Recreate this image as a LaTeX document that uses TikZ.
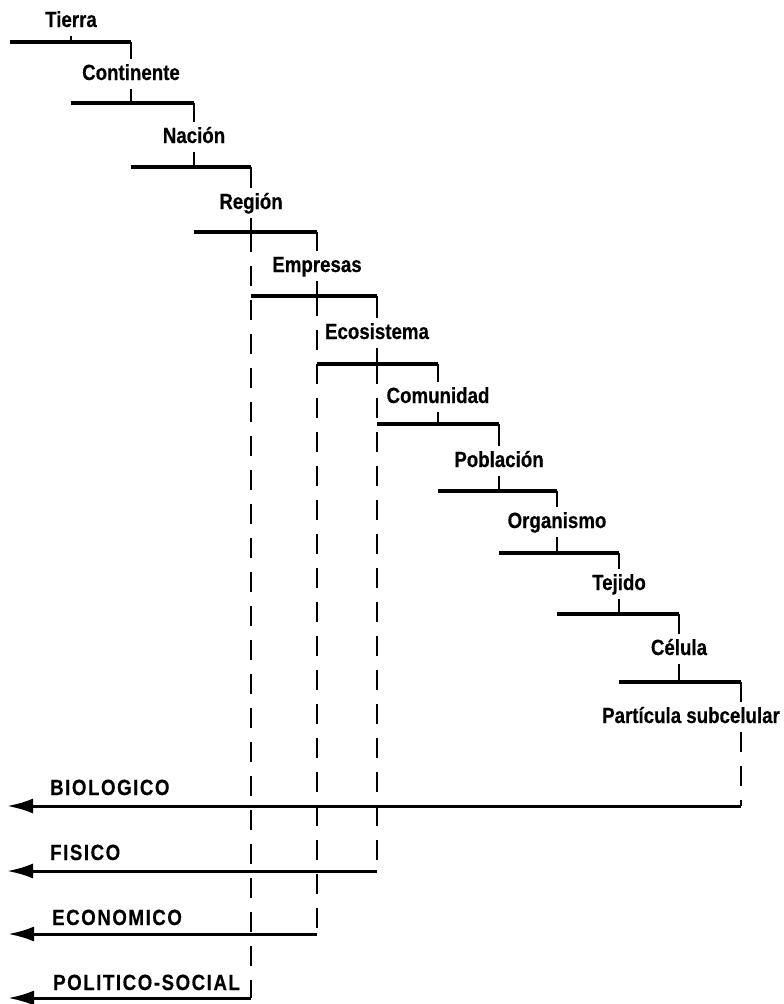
\documentclass[tikz,border=0pt]{standalone}
\usepackage{fontspec}
\newfontfamily\lblfont{Liberation Sans}[FakeStretch=0.85,FakeBold=0.4]
\newfontfamily\capfont{Liberation Sans}[FakeStretch=0.85,FakeBold=0.4,LetterSpace=7]
\usetikzlibrary{arrows.meta}
\begin{document}
\begin{tikzpicture}[x=1pt,y=-1pt,
  level/.style={font=\lblfont\bfseries\fontsize{22}{26}\selectfont,
    inner sep=5pt, text height=16pt, text depth=4pt, anchor=base},
  cat/.style={font=\capfont\bfseries\fontsize{22}{26}\selectfont,
    inner sep=0pt, anchor=base west},
  barline/.style={line width=3.4pt},
  vline/.style={line width=2.6pt},
  dline/.style={line width=2.6pt, dash pattern=on 20pt off 14pt},
  arr/.style={line width=3pt, -{Latex[length=26pt,width=15pt]}}]
\useasboundingbox (0,0) rectangle (784,1004);

% end points and tick points of the level bars
\foreach \k/\l/\m/\r/\y in {1/10/71/131/42, 2/71/131/194/103, 3/131/194/251/167,
    4/194/251/317/232, 5/251/317/377/296, 6/317/377/438/364, 7/377/438/499/424,
    8/438/499/557/491, 9/499/557/619/553, 10/557/619/679/614, 11/619/679/741/682}
  {\coordinate (bL\k) at (\l,\y);
   \coordinate (bM\k) at (\m,\y);
   \coordinate (bR\k) at (\r,\y);}

% level names
\node[level] (L1)  at (71,27)   {Tierra};
\node[level] (L2)  at (131,80)  {Continente};
\node[level] (L3)  at (194,143) {Nación};
\node[level] (L4)  at (251,209) {Región};
\node[level] (L5)  at (317,272) {Empresas};
\node[level] (L6)  at (377,339) {Ecosistema};
\node[level] (L7)  at (438,403) {Comunidad};
\node[level] (L8)  at (499,467) {Población};
\node[level] (L9)  at (557,528) {Organismo};
\node[level] (L10) at (619,590) {Tejido};
\node[level] (L11) at (679,655) {Célula};
\node[level] (L12) at (691,723) {Partícula subcelular};

% bars
\foreach \k in {1,...,11}
  \draw[barline] (bL\k) -- (bR\k);

% steps from each bar down to the next one
\draw[vline] (L1) -- (bM1);
\foreach \k in {2,...,11}{
  \pgfmathtruncatemacro{\p}{\k-1}
  \draw[vline] (bR\p) -- (L\k) -- (bM\k);
}
\draw[vline] (bR11) -- (L12.north -| bR11);

% sector lines
\coordinate (eBI) at (741,806); \coordinate (tBI) at (7,806);
\coordinate (eFI) at (377,871); \coordinate (tFI) at (7,871);
\coordinate (eEC) at (317,934); \coordinate (tEC) at (8,934);
\coordinate (ePS) at (251,998); \coordinate (tPS) at (8,998);

\draw[dline] (bM4) -- (ePS);
\draw[dline] (bM5) -- (eEC);
\draw[dline] (bM6) -- (eFI);
\draw[dline] (L12.south -| bR11) -- (eBI);

\draw[arr] (eBI) -- (tBI);
\draw[arr] (eFI) -- (tFI);
\draw[arr] (eEC) -- (tEC);
\draw[arr] (ePS) -- (tPS);

\node[cat] (nBI) at (50,795) {BIOLOGICO};
\node[cat] (nFI) at (50,860) {FISICO};
\node[cat] (nEC) at (52,925) {ECONOMICO};
\node[cat] (nPS) at (53,990) {POLITICO-SOCIAL};
\end{tikzpicture}
\end{document}
